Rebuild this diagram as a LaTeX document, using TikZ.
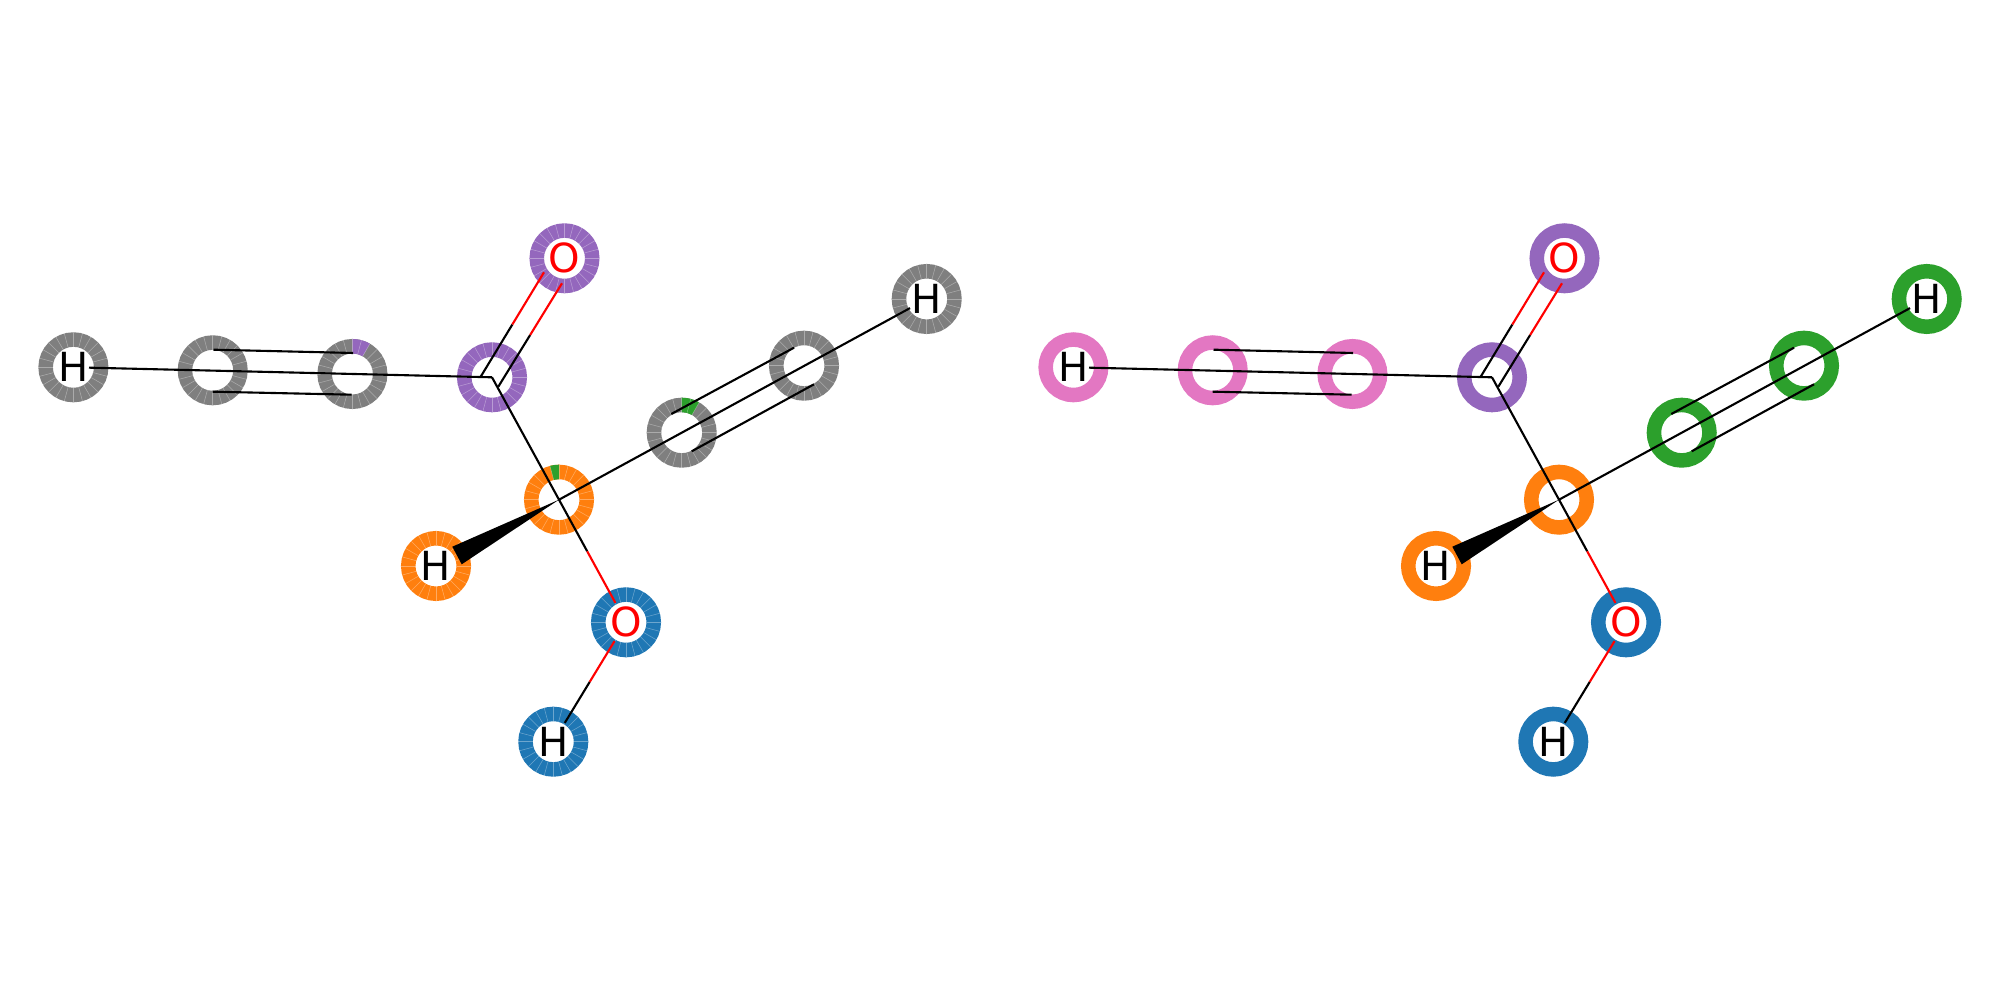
\documentclass[tikz,border=0pt]{standalone}
\usepackage{fontspec}
\setmainfont{DejaVu Sans}
\usetikzlibrary{positioning,calc}
\definecolor{tabblue}{HTML}{1F77B4}
\definecolor{taborange}{HTML}{FF7F0E}
\definecolor{tabgreen}{HTML}{2CA02C}
\definecolor{tabpurple}{HTML}{9467BD}
\definecolor{tabpink}{HTML}{E377C2}
\definecolor{tabgray}{HTML}{7F7F7F}
\tikzset{
  atomring/.style={circle, draw=#1, fill=white, line width=1.45mm, minimum size=5.55mm, inner sep=0pt},
  bond/.style={line width=0.6pt, black},
  obond/.style={line width=0.6pt, red},
  seam/.style={line width=0.15pt, white, opacity=0.35},
  label/.style={font=\fontsize{11.4}{13}\selectfont}
}
\begin{document}
\begin{tikzpicture}[x=0.01cm, y=0.01cm]
  \useasboundingbox (0,0) rectangle (2000,1000);

  % Draw the atoms of both panels
  \foreach \side/\dx/\cola/\colb in {L/0/tabgray/tabgray, R/1000/tabpink/tabgreen} {
    \node[atomring=\cola, label] (\side-h1) at (\dx+73.4,632.7) {H};
    \node[atomring=\cola] (\side-c1) at (\dx+212.7,629.7) {};
    \node[atomring=\cola] (\side-c2) at (\dx+352.4,626) {};
    \node[atomring=tabpurple] (\side-c3) at (\dx+492,622.7) {};
    \node[atomring=tabpurple, label, text=red] (\side-o1) at (\dx+564.5,741.7) {O};
    \node[atomring=taborange] (\side-c4) at (\dx+559,500.3) {};
    \node[atomring=\colb] (\side-c5) at (\dx+681.7,567.3) {};
    \node[atomring=\colb] (\side-c6) at (\dx+804,634.3) {};
    \node[atomring=\colb, label] (\side-h3) at (\dx+926.7,701) {H};
    \node[atomring=taborange, label] (\side-h2) at (\dx+436,434) {H};
    \node[atomring=tabblue, label, text=red] (\side-o2) at (\dx+626,377.7) {O};
    \node[atomring=tabblue, label] (\side-h4) at (\dx+553.3,258.3) {H};
  }

  % Coloured segments of the left panel
  \foreach \n/\from/\to/\col in {c2/60/90/tabpurple, c5/60/90/tabgreen, c4/90/105/tabgreen} {
    \fill[\col] ([shift={(\from:20.5)}]L-\n.center) arc (\from:\to:20.5)
      -- ([shift={(\to:35)}]L-\n.center) arc (\to:\from:35) -- cycle;
  }
  \foreach \n in {h1,c1,c2,c3,o1,c4,c5,c6,h3,h2,o2,h4} {
    \foreach \a in {0,15,...,345} {
      \draw[seam] ([shift={(\a:20.5)}]L-\n.center) -- ([shift={(\a:35)}]L-\n.center);
    }
  }

  % Draw the bonds of both panels
  \foreach \side in {L,R} {
    \draw[bond, shorten <=1.56mm] (\side-h1.center) -- (\side-c3.center);
    \draw[bond] ([shift={(.8,20.6)}]\side-c1.center) -- ([shift={(.8,21)}]\side-c2.center);
    \draw[bond] ([shift={(0,-21.4)}]\side-c1.center) -- ([shift={(-.8,-20.7)}]\side-c2.center);

    % C=O
    \path ([shift={(-11.3,.6)}]\side-c3.center) coordinate (\side-da)
      -- coordinate[midway] (\side-dm) ([shift={(-20.5,-14)}]\side-o1.center) coordinate (\side-db);
    \draw[bond] (\side-da) -- (\side-dm);
    \draw[obond] (\side-dm) -- (\side-db);
    \path ([shift={(6.3,-9.4)}]\side-c3.center) coordinate (\side-ea)
      -- coordinate[midway] (\side-em) ([shift={(-2.5,-25)}]\side-o1.center) coordinate (\side-eb);
    \draw[bond] (\side-ea) -- (\side-em);
    \draw[obond] (\side-em) -- (\side-eb);

    \draw[bond] (\side-c3.center) -- (\side-c4.center);
    \draw[bond] (\side-c4.center) -- ($(\side-c4.center)!.421!(\side-o2.center)$);
    \draw[obond] ($(\side-c4.center)!.421!(\side-o2.center)$) -- ($(\side-c4.center)!.8425!(\side-o2.center)$);

    % the wedge
    \fill[black] (\side-c4.center) -- ([shift={(16.3,19.3)}]\side-h2.center)
      -- ([shift={(25.7,1.7)}]\side-h2.center) -- cycle;

    \draw[bond, shorten >=1.9mm] (\side-c4.center) -- (\side-h3.center);
    \draw[bond] ([shift={(-10.4,18.7)}]\side-c5.center) -- ([shift={(-10,18)}]\side-c6.center);
    \draw[bond] ([shift={(10,-18.6)}]\side-c5.center) -- ([shift={(10,-18.6)}]\side-c6.center);

    % O-H
    \draw[obond] ($(\side-o2.center)!.157!(\side-h4.center)$) -- ($(\side-o2.center)!.5!(\side-h4.center)$);
    \draw[bond] ($(\side-o2.center)!.5!(\side-h4.center)$) -- ($(\side-o2.center)!.843!(\side-h4.center)$);
  }
\end{tikzpicture}
\end{document}
